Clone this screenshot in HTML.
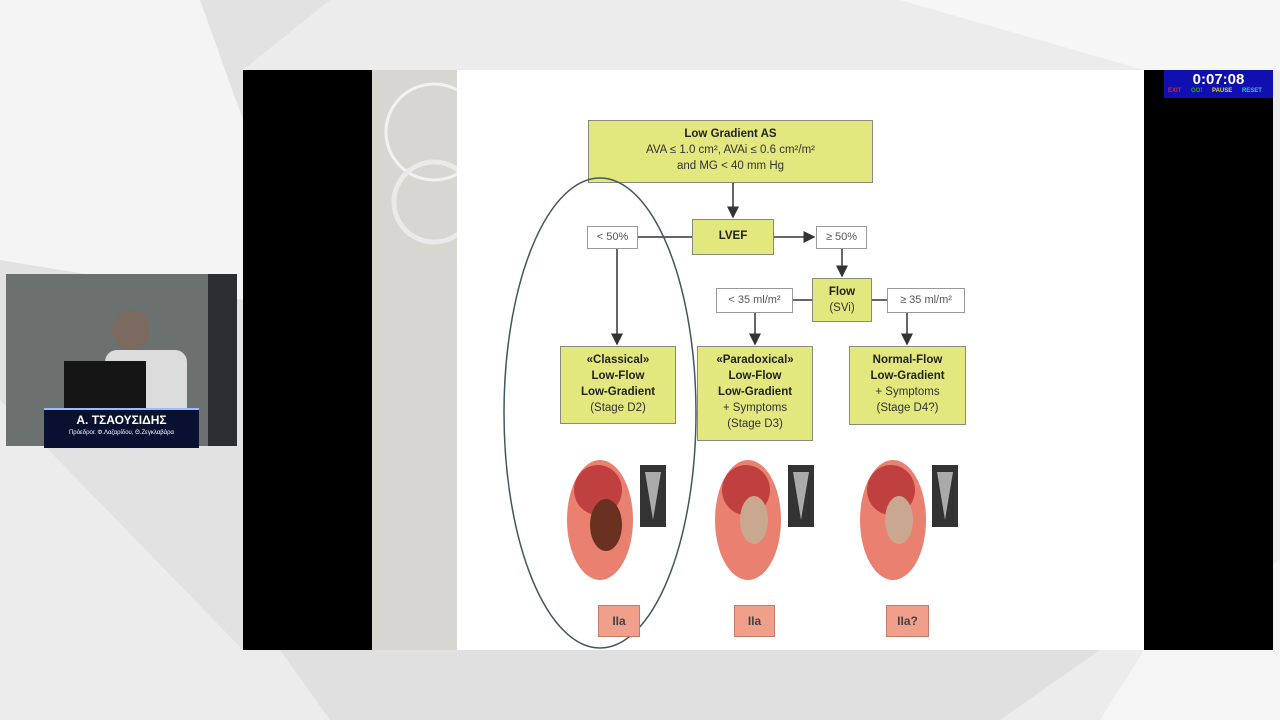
<!DOCTYPE html>
<html><head><meta charset="utf-8"><style>
body{margin:0;width:1280px;height:720px;overflow:hidden;background:#ececec;font-family:"Liberation Sans",Arial,sans-serif;position:relative}
.abs{position:absolute}
.b{position:absolute;background:#e3e87e;border:1.5px solid #8a8a7a;box-sizing:border-box;text-align:center;color:#333;font-size:11.5px;line-height:16px}
.w{position:absolute;background:#fff;border:1.5px solid #999;box-sizing:border-box;text-align:center;color:#555;font-size:11px}
.r{position:absolute;background:#f0a08a;border:1px solid #c87a6a;box-sizing:border-box;text-align:center;color:#444;font-size:12px;font-weight:bold;line-height:30px}
b{color:#222}
</style></head><body>
<svg class="abs" style="left:0;top:0" width="1280" height="720">
<polygon points="0,0 330,0 243,70 243,650 0,400" fill="#e2e2e2"/>
<polygon points="0,0 200,0 243,120 243,300 0,260" fill="#f4f4f4"/>
<polygon points="900,0 1280,0 1280,70 1144,70" fill="#f6f6f6"/>
<polygon points="280,650 1100,650 1000,720 330,720" fill="#e0e0e0"/>
<polygon points="1144,650 1280,560 1280,720 1100,720" fill="#f5f5f5"/>
</svg>
<div class="abs" style="left:243px;top:70px;width:1030px;height:580px;background:#000"></div>
<div class="abs" style="left:372px;top:70px;width:86px;height:580px;background:#d8d6d0"></div>
<svg class="abs" style="left:372px;top:70px" width="86" height="200"><circle cx="62" cy="62" r="48" fill="none" stroke="#f2f2f2" stroke-width="3"/><circle cx="62" cy="132" r="40" fill="none" stroke="#eaeaea" stroke-width="5"/></svg>
<div class="abs" style="left:457px;top:70px;width:687px;height:580px;background:#fff"></div>
<div class="abs" style="left:1164px;top:70px;width:109px;height:28px;background:#1010b0"></div>
<div class="abs" style="left:1164px;top:71px;width:109px;text-align:center;color:#fff;font-weight:bold;font-size:15px">0:07:08</div>
<div class="abs" style="left:1168px;top:88px;font-size:6px;font-weight:bold;word-spacing:8px"><span style="color:#d22">EXIT</span> <span style="color:#2a2">GO!</span> <span style="color:#dd3">PAUSE</span> <span style="color:#3cc">RESET</span></div>
<!-- speaker inset -->
<div class="abs" style="left:6px;top:274px;width:231px;height:172px;background:#6a716f"></div>
<div class="abs" style="left:208px;top:274px;width:29px;height:172px;background:#2a2e30"></div>
<div class="abs" style="left:112px;top:310px;width:38px;height:40px;border-radius:50%;background:#7a6a60"></div>
<div class="abs" style="left:105px;top:350px;width:82px;height:60px;background:#dcdcdc;border-radius:12px 12px 0 0"></div>
<div class="abs" style="left:64px;top:361px;width:82px;height:48px;background:#151515"></div>
<div class="abs" style="left:44px;top:408px;width:155px;height:38px;background:#0a1030;border-top:2px solid #9bf"></div>
<div class="abs" style="left:44px;top:413px;width:155px;text-align:center;color:#fff;font-weight:bold;font-size:12px">Α. ΤΣΑΟΥΣΙΔΗΣ</div>
<div class="abs" style="left:44px;top:430px;width:155px;text-align:center;color:#fff;font-size:6px">Πρόεδροι: Φ.Λαζαρίδου, Θ.Ζεγκλαβάρα</div>
<!-- diagram -->
<svg class="abs" style="left:0;top:0" width="1280" height="720">
<defs><marker id="a" markerWidth="8" markerHeight="8" refX="7" refY="4" orient="auto"><path d="M0,0 L8,4 L0,8z" fill="#333"/></marker></defs>
<g stroke="#333" stroke-width="1.5" fill="none">
<line x1="733" y1="183" x2="733" y2="217" marker-end="url(#a)"/>
<line x1="638" y1="237" x2="692" y2="237"/>
<line x1="774" y1="237" x2="814" y2="237" marker-end="url(#a)"/>
<line x1="617" y1="249" x2="617" y2="344" marker-end="url(#a)"/>
<line x1="842" y1="249" x2="842" y2="276" marker-end="url(#a)"/>
<line x1="793" y1="300" x2="812" y2="300"/>
<line x1="872" y1="300" x2="887" y2="300"/>
<line x1="755" y1="313" x2="755" y2="344" marker-end="url(#a)"/>
<line x1="907" y1="313" x2="907" y2="344" marker-end="url(#a)"/>
</g>
</svg>
<div class="b" style="left:588px;top:120px;width:285px;height:63px;padding-top:5px"><b>Low Gradient AS</b><br>AVA ≤ 1.0 cm², AVAi ≤ 0.6 cm²/m²<br>and MG &lt; 40 mm Hg</div>
<div class="b" style="left:692px;top:219px;width:82px;height:36px;line-height:33px"><b>LVEF</b></div>
<div class="w" style="left:587px;top:226px;width:51px;height:23px;line-height:20px">&lt; 50%</div>
<div class="w" style="left:816px;top:226px;width:51px;height:23px;line-height:20px">≥ 50%</div>
<div class="b" style="left:812px;top:278px;width:60px;height:44px;padding-top:5px"><b>Flow</b><br>(SVi)</div>
<div class="w" style="left:716px;top:288px;width:77px;height:25px;line-height:22px">&lt; 35 ml/m²</div>
<div class="w" style="left:887px;top:288px;width:78px;height:25px;line-height:22px">≥ 35 ml/m²</div>
<div class="b" style="left:560px;top:346px;width:116px;height:78px;padding-top:5px"><b>«Classical»<br>Low-Flow<br>Low-Gradient</b><br>(Stage D2)</div>
<div class="b" style="left:697px;top:346px;width:116px;height:95px;padding-top:5px"><b>«Paradoxical»<br>Low-Flow<br>Low-Gradient</b><br>+ Symptoms<br>(Stage D3)</div>
<div class="b" style="left:849px;top:346px;width:117px;height:79px;padding-top:5px"><b>Normal-Flow<br>Low-Gradient</b><br>+ Symptoms<br>(Stage D4?)</div>
<svg class="abs" style="left:0;top:0" width="1280" height="720">
<g>
<ellipse cx="600" cy="520" rx="33" ry="60" fill="#e98070"/><ellipse cx="598" cy="490" rx="24" ry="25" fill="#c04040"/><ellipse cx="606" cy="525" rx="16" ry="26" fill="#6a3020"/>
<ellipse cx="748" cy="520" rx="33" ry="60" fill="#e98070"/><ellipse cx="746" cy="490" rx="24" ry="25" fill="#c04040"/><ellipse cx="754" cy="520" rx="14" ry="24" fill="#caa890"/>
<ellipse cx="893" cy="520" rx="33" ry="60" fill="#e98070"/><ellipse cx="891" cy="490" rx="24" ry="25" fill="#c04040"/><ellipse cx="899" cy="520" rx="14" ry="24" fill="#caa890"/>
<rect x="640" y="465" width="26" height="62" fill="#333"/><rect x="788" y="465" width="26" height="62" fill="#333"/><rect x="932" y="465" width="26" height="62" fill="#333"/>
<path d="M645,472 L661,472 L653,520z M793,472 L809,472 L801,520z M937,472 L953,472 L945,520z" fill="#aaa"/>
</g>
<ellipse cx="600" cy="413" rx="96" ry="235" fill="none" stroke="#3d5a58" stroke-width="1.5"/>
</svg>
<div class="r" style="left:598px;top:605px;width:42px;height:32px">IIa</div>
<div class="r" style="left:734px;top:605px;width:41px;height:32px">IIa</div>
<div class="r" style="left:886px;top:605px;width:43px;height:32px">IIa?</div>
</body></html>
